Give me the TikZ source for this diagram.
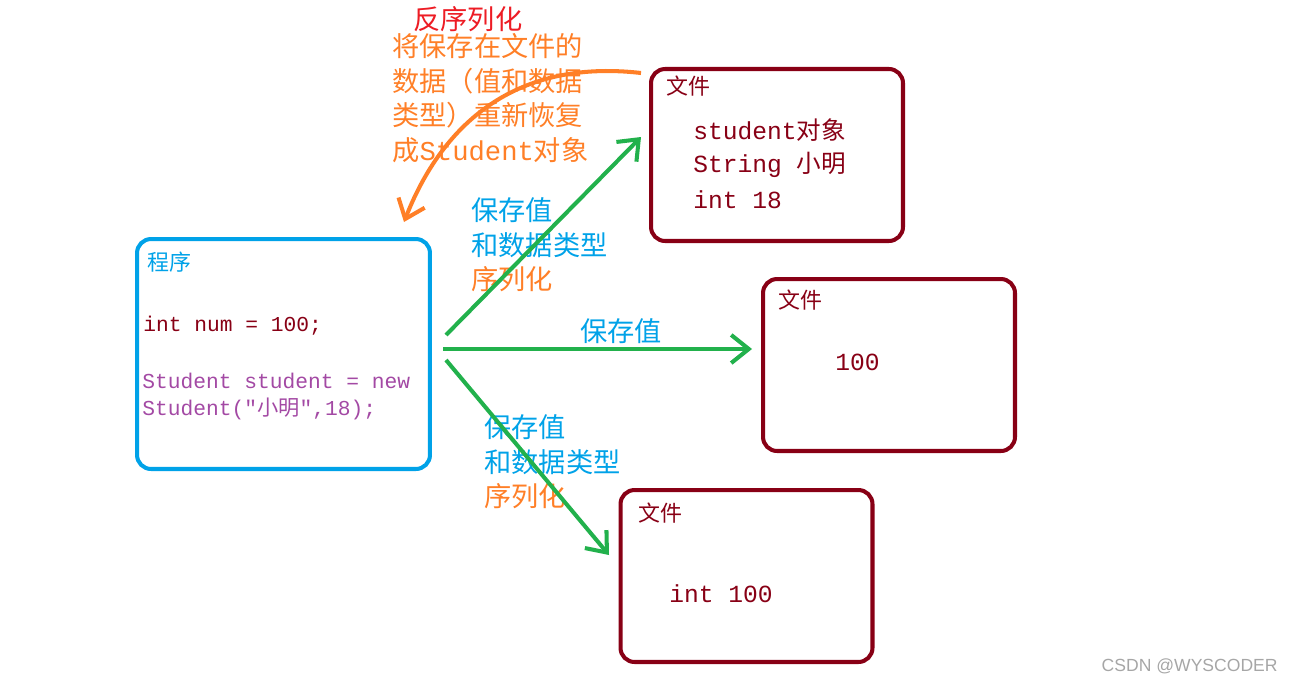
\documentclass[tikz,border=0pt]{standalone}
\usepackage{fontspec}
\setmainfont{Noto Sans CJK SC}
\setmonofont{Liberation Mono}
\newfontfamily\cjk{Noto Sans CJK SC}
\newfontfamily\wmfont{Liberation Sans}
\usepackage{xcolor}
\usepackage{tikz}
\usetikzlibrary{arrows.meta,positioning}
\definecolor{skyblue}{RGB}{0,162,232}
\definecolor{grassgreen}{RGB}{34,177,76}
\definecolor{tangerine}{RGB}{255,127,39}
\definecolor{brightred}{RGB}{237,28,36}
\definecolor{wine}{RGB}{136,0,21}
\definecolor{codeplum}{RGB}{163,73,164}

\begin{document}
\begin{tikzpicture}[x=0.02cm, y=-0.02cm,
                    progbox/.style={draw=skyblue, line width=2.3pt, rounded corners=8pt, minimum width=5.86cm, minimum height=4.6cm},
                    filebox/.style={draw=wine, line width=2.3pt, rounded corners=8pt, minimum width=5.04cm, minimum height=3.44cm},
                    savearrow/.style={grassgreen, line width=2.3pt, -{Straight Barb[length=10pt,width=16pt]}},
                    backarrow/.style={tangerine, line width=2.3pt, -{Straight Barb[length=10pt,width=16pt]}},
                    tag/.style={anchor=west, inner sep=0pt, text=wine, font=\fontsize{12.5}{15}\selectfont},
                    code/.style={anchor=west, inner sep=0pt, text=wine, font=\ttfamily\fontsize{12.1}{14}\selectfont},
                    content/.style={anchor=west, inner sep=0pt, text=wine, font=\ttfamily\fontsize{14}{16}\selectfont},
                    notetext/.style={anchor=west, inner sep=0pt, align=left, font=\fontsize{15.5}{19.6}\selectfont},
                   ]

\useasboundingbox (0,0) rectangle (1294,683);

% boxes
\node[progbox] (prog) at (283.5,354) {};
\node[filebox] (file1) at (777,155) {};
\node[filebox] (file2) at (889,365) {};
\node[filebox] (file3) at (746.5,576) {};

% program box
\node[tag, text=skyblue] (progtag) at (147,262) {程序};
\node[code] (numline) at (143,326) {int num = 100;};
\node[code, text=codeplum] (newline1) at (142,381) {Student student = new};
\node[code, text=codeplum] (newline2) at (142,409) {Student("{\cjk 小明}",18);};

% file boxes
\node[tag] (filetag1) at (666,86) {文件};
\node[content] (objline) at (693,130) {student{\cjk 对象}};
\node[content] (strline) at (693,165) {String {\cjk 小明}};
\node[content] (ageline) at (693,200) {int 18};

\node[tag] (filetag2) at (778,300) {文件};
\node[content] (valline) at (835,362) {100};

\node[tag] (filetag3) at (638,513) {文件};
\node[content] (intline) at (669,594) {int 100};

% notes
\node[notetext, text=brightred] (unserial) at (413,19) {反序列化};
\node[notetext, text=tangerine] (backnote) at (392,98) {将保存在文件的\\数据（值和数据\\类型）重新恢复\\成{\ttfamily Student}对象};
\node[notetext, text=skyblue] (savenote1) at (471,245) {保存值\\和数据类型\\{\color{tangerine}序列化}};
\node[notetext, text=skyblue] (savenote2) at (580,331) {保存值};
\node[notetext, text=skyblue] (savenote3) at (484,462) {保存值\\和数据类型\\{\color{tangerine}序列化}};

% arrows
\coordinate (up0) at (446,335);
\coordinate (up1) at (641,137);
\coordinate (mid0) at (443,349);
\coordinate (mid1) at (752,349);
\coordinate (low0) at (446,360);
\coordinate (low1) at (609,555);
\coordinate (back0) at (641,73);
\coordinate (back1) at (404,222);

\draw[savearrow] (up0) -- (up1);
\draw[savearrow] (mid0) -- (mid1);
\draw[savearrow] (low0) -- (low1);
\draw[backarrow] (back0) .. controls (510,58) and (440,130) .. (back1);

\node[anchor=east, inner sep=0pt, text=gray!70, font=\wmfont\fontsize{10}{12}\selectfont] (mark) at (1278,666) {CSDN @WYSCODER};

\end{tikzpicture}
\end{document}
